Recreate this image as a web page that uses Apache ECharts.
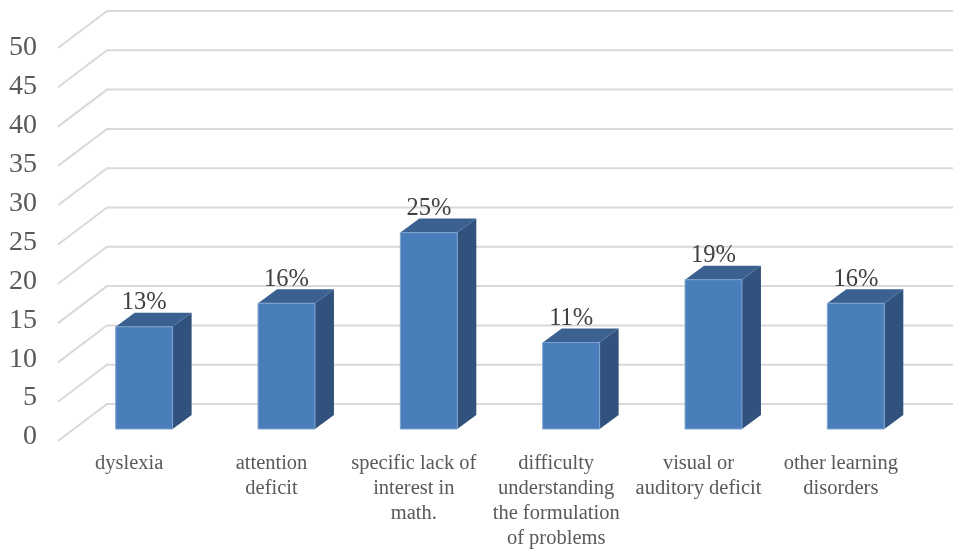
<!DOCTYPE html>
<html>
<head>
<meta charset="utf-8">
<script src="https://cdn.jsdelivr.net/npm/echarts@6/dist/echarts.min.js"></script>
<style>
    html, body { margin: 0; padding: 0; background: #fff; }
    #chart { width: 953px; height: 551px; }
</style>
</head>
<body>
<div id="chart"></div>
<script>
// Data
var categories = [
    'dyslexia',
    'attention\ndeficit',
    'specific lack of\ninterest in\nmath.',
    'difficulty\nunderstanding\nthe formulation\nof problems',
    'visual or\nauditory deficit',
    'other learning\ndisorders'
];
var percentages = [13, 16, 25, 11, 19, 16];
var yTicks = [0, 5, 10, 15, 20, 25, 30, 35, 40, 45, 50];

// Fake 3D depth (pixels)
var BAR_DX = 19, BAR_DY = 14;       // bar front -> bar back
var FRONT_DX = -15, FRONT_DY = 12;  // bar plane -> floor front edge
var BACK_DX = 34, BACK_DY = 25;     // bar plane -> back wall

var chart = echarts.init(document.getElementById('chart'));

function renderGridLine(params, api) {
    var cs = params.coordSys;
    var y = api.coord([0, api.value(0)])[1];
    return {
        type: 'polyline',
        shape: {
            points: [
                [cs.x + FRONT_DX, y + FRONT_DY],
                [cs.x + BACK_DX, y - BACK_DY],
                [953, y - BACK_DY]
            ]
        },
        style: { stroke: '#d9d9d9', lineWidth: 2, fill: null },
        silent: true
    };
}

function renderBar(params, api) {
    var top = api.coord([api.value(0), api.value(1)]);
    var base = api.coord([api.value(0), 0]);
    var w = api.size([1, 0])[0] * 0.4;
    var x0 = top[0] - w / 2, x1 = top[0] + w / 2;
    var yt = top[1], yb = base[1];
    return {
        type: 'group',
        children: [
            {
                type: 'polygon',
                shape: { points: [[x1, yt], [x1 + BAR_DX, yt - BAR_DY], [x1 + BAR_DX, yb - BAR_DY], [x1, yb]] },
                style: { fill: '#30527c' }
            },
            {
                type: 'polygon',
                shape: { points: [[x0, yt], [x0 + BAR_DX, yt - BAR_DY], [x1 + BAR_DX, yt - BAR_DY], [x1, yt]] },
                style: { fill: '#3a6190' }
            },
            {
                type: 'rect',
                shape: { x: x0, y: yt, width: w, height: yb - yt },
                style: { fill: '#4a7ebb', stroke: '#7ea3d0', lineWidth: 1 }
            },
            {
                type: 'text',
                x: top[0],
                y: yt - 24,
                style: {
                    text: api.value(1) + '%',
                    fill: '#404040',
                    font: '24.5px "Liberation Serif"',
                    align: 'center',
                    verticalAlign: 'middle'
                }
            }
        ]
    };
}

chart.setOption({
    animation: false,
    grid: [
        { left: 73, width: 854, top: 36, height: 393 },
        { left: 58, width: 854, top: 48, height: 393 }
    ],
    xAxis: [
        {
            type: 'category', gridIndex: 0, data: categories,
            axisLine: { show: false }, axisTick: { show: false }, axisLabel: { show: false }
        },
        {
            type: 'category', gridIndex: 1, data: categories,
            axisLine: { show: false }, axisTick: { show: false },
            axisLabel: {
                interval: 0, margin: 14, color: '#595959',
                fontFamily: 'Liberation Serif', fontSize: 20.5, lineHeight: 25
            }
        }
    ],
    yAxis: [
        {
            type: 'value', gridIndex: 0, min: 0, max: 50, interval: 5,
            axisLine: { show: false }, axisTick: { show: false },
            axisLabel: { show: false }, splitLine: { show: false }
        },
        {
            type: 'value', gridIndex: 1, min: 0, max: 50, interval: 5,
            axisLine: { show: false }, axisTick: { show: false }, splitLine: { show: false },
            axisLabel: { margin: 21, color: '#595959', fontFamily: 'Liberation Serif', fontSize: 28 }
        }
    ],
    series: [
        {
            type: 'custom', xAxisIndex: 0, yAxisIndex: 0, z: 1,
            data: yTicks.map(function (v) { return [v]; }),
            renderItem: renderGridLine
        },
        {
            type: 'custom', xAxisIndex: 0, yAxisIndex: 0, z: 2,
            data: percentages.map(function (v, i) { return [i, v]; }),
            renderItem: renderBar
        }
    ]
});
</script>
</body>
</html>
